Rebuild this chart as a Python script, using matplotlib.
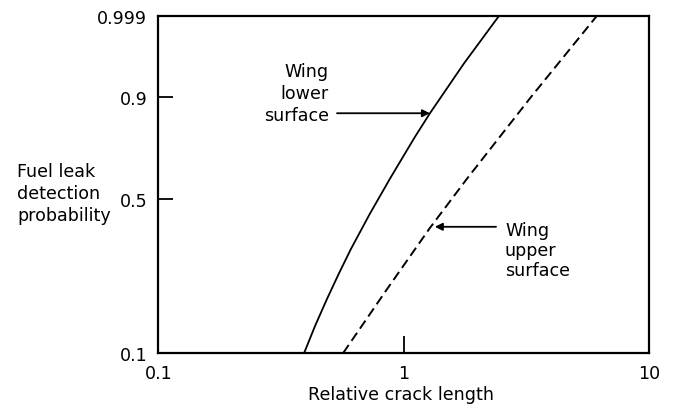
import numpy as np
import matplotlib
matplotlib.use("Agg")
import matplotlib.pyplot as plt

# ---- data ----
x_lower = [0.393, 0.4354, 0.487, 0.5436, 0.6095, 0.7275, 0.8786, 0.967, 1.113, 1.28, 1.76, 2.45]
p_lower = [0.100, 0.1364, 0.1845, 0.2419, 0.313, 0.438, 0.584, 0.658, 0.763, 0.85, 0.973, 0.999]

x_upper = [0.567, 0.852, 1.28, 1.81, 3.31, 6.14]
p_upper = [0.100, 0.204, 0.385, 0.584, 0.90, 0.999]

x_ticks = [0.1, 1, 10]
x_ticklabels = ["0.1", "1", "10"]
y_ticks = [0.1, 0.5, 0.9, 0.999]
y_ticklabels = ["0.1", "0.5", "0.9", "0.999"]

# ---- probability axis (piecewise Weibull-type scale, matching the tick spacing) ----
anchor_pos = np.array([0.0, 154.0, 256.0, 337.0])


def _w(p):
    p = np.clip(np.asarray(p, dtype=float), 1e-12, 1 - 1e-12)
    return np.log(-np.log(1 - p))


anchor_w = _w(y_ticks)


def _pw(x, xs, ys):
    x = np.asarray(x, dtype=float)
    out = np.interp(x, xs, ys)
    lo = x < xs[0]
    hi = x > xs[-1]
    s0 = (ys[1] - ys[0]) / (xs[1] - xs[0])
    s1 = (ys[-1] - ys[-2]) / (xs[-1] - xs[-2])
    out = np.where(lo, ys[0] + (x - xs[0]) * s0, out)
    out = np.where(hi, ys[-1] + (x - xs[-1]) * s1, out)
    return out


def fwd(p):
    return _pw(_w(p), anchor_w, anchor_pos)


def inv(v):
    w = _pw(v, anchor_pos, anchor_w)
    return 1 - np.exp(-np.exp(w))


plt.rcParams["font.family"] = ["DejaVu Sans"]
FS = 12.6

fig = plt.figure(figsize=(6.75, 4.10), dpi=100)
ax = fig.add_axes([158.3 / 675, 1 - 354 / 410, (649 - 158.3) / 675, (354 - 16.7) / 410])

ax.set_xscale("log")
ax.set_yscale("function", functions=(fwd, inv))
ax.set_xlim(0.1, 10)
ax.set_ylim(0.1, 0.999)

ax.plot(x_lower, p_lower, color="black", lw=1.3, solid_capstyle="butt",
        solid_joinstyle="round")
ax.plot(x_upper, p_upper, color="black", lw=1.4, linestyle=(0, (5.0, 2.6)))

ax.set_xticks(x_ticks)
ax.set_xticklabels(x_ticklabels)
ax.set_yticks(y_ticks)
ax.set_yticklabels(y_ticklabels)
ax.xaxis.set_minor_locator(matplotlib.ticker.NullLocator())
ax.yaxis.set_minor_locator(matplotlib.ticker.NullLocator())
ax.tick_params(axis="both", direction="in", labelsize=FS, width=1.3, color="black")
ax.tick_params(axis="y", length=11, pad=8)
ax.tick_params(axis="x", length=12.5, pad=8)

for s in ax.spines.values():
    s.set_linewidth(1.6)
    s.set_color("black")

# arrows pointing to curves
ax.annotate("", xy=(1.28, 0.85), xytext=(0.535, 0.85),
            arrowprops=dict(arrowstyle="-|>", color="black", lw=1.3,
                            mutation_scale=11, shrinkA=0, shrinkB=0))
ax.annotate("", xy=(1.34, 0.389), xytext=(2.38, 0.389),
            arrowprops=dict(arrowstyle="-|>", color="black", lw=1.3,
                            mutation_scale=11, shrinkA=0, shrinkB=0))

fig.text(329 / 675, 1 - 94 / 410, "Wing\nlower\nsurface", ha="right", va="center",
         multialignment="right", fontsize=FS, linespacing=1.27)
fig.text(505 / 675, 1 - 251 / 410, "Wing\nupper\nsurface", ha="left", va="center",
         multialignment="left", fontsize=FS, linespacing=1.15)

fig.text(17 / 675, 1 - 194 / 410, "Fuel leak\ndetection\nprobability", ha="left",
         va="center", multialignment="left", fontsize=FS, linespacing=1.3)
fig.text(401 / 675, 1 - 395 / 410, "Relative crack length", ha="center", va="center",
         fontsize=FS)

fig.savefig("out.png", dpi=100, facecolor="white")
